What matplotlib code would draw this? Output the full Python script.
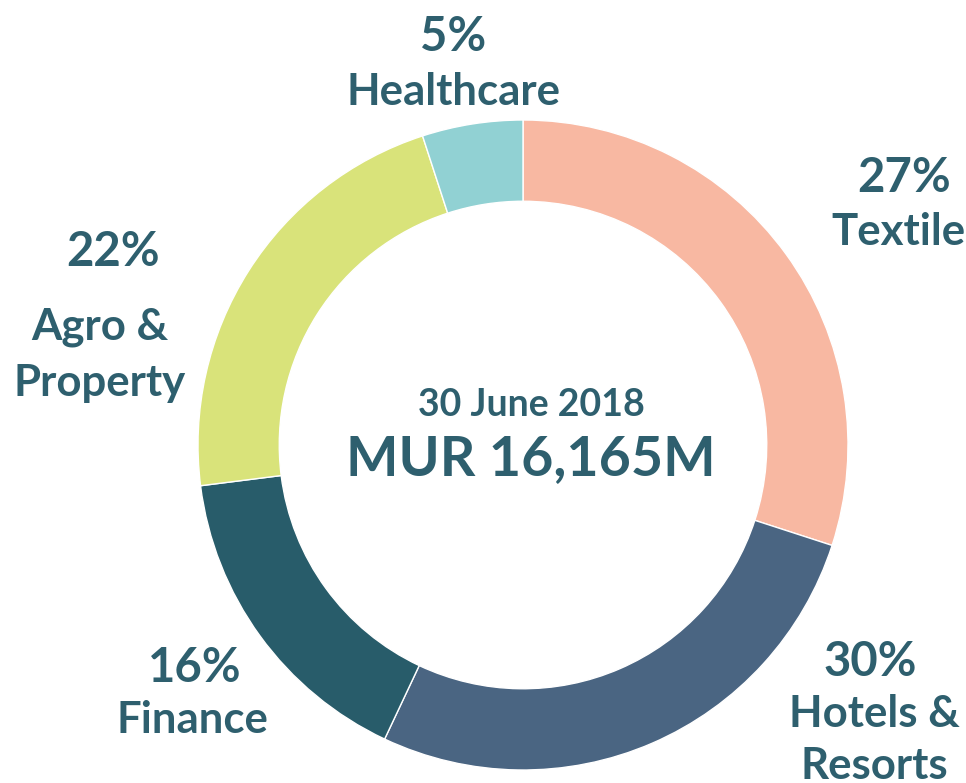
import matplotlib
matplotlib.use("Agg")
import matplotlib.pyplot as plt

# wedge sizes as drawn (clockwise from 12 o'clock)
sectors = ["Textile", "Hotels & Resorts", "Finance", "Agro & Property", "Healthcare"]
shares = [30, 27, 16, 22, 5]
# percentages as printed on the source chart
pct_text = ["27%", "30%", "16%", "22%", "5%"]
colors = ["#F8B8A2", "#4A6582", "#285C6A", "#D9E37A", "#91D1D3"]

date_text = "30 June 2018"
total_text = "MUR 16,165M"

txt_color = "#2E5F6E"
W, H = 966, 783

fig = plt.figure(figsize=(W / 100, H / 100), dpi=100)
ax = fig.add_axes([0, 0, 1, 1])

cx, cy, r = 523, H - 445, 325
ax.pie(shares, colors=colors, startangle=90, counterclock=False,
       center=(cx, cy), radius=r,
       wedgeprops=dict(width=r * 0.25, edgecolor="white", linewidth=1))
ax.set_xlim(0, W)
ax.set_ylim(0, H)
ax.set_aspect("equal")
ax.axis("off")

font = dict(family="Lato", fontweight="bold", color=txt_color,
            ha="center", va="center")

def put(x, y, s, size):
    ax.text(x, H - y, s, fontsize=size, **font)

# label blocks: (x, y) in pixel coords from top-left
put(904, 178, pct_text[0], 34)
put(898, 232, "Textile", 31.5)
put(870, 662, pct_text[1], 34)
put(874, 714, "Hotels &", 31.5)
put(874, 766, "Resorts", 31.5)
put(195, 668, pct_text[2], 34)
put(192, 720, "Finance", 31.5)
put(113, 252, pct_text[3], 34)
put(100, 327, "Agro &", 31.5)
put(100, 383, "Property", 31.5)
put(453, 37, pct_text[4], 34)
put(453, 92, "Healthcare", 31.5)

put(531, 405, date_text, 27)
put(531, 459, total_text, 40)

fig.savefig("out.png", dpi=100)
